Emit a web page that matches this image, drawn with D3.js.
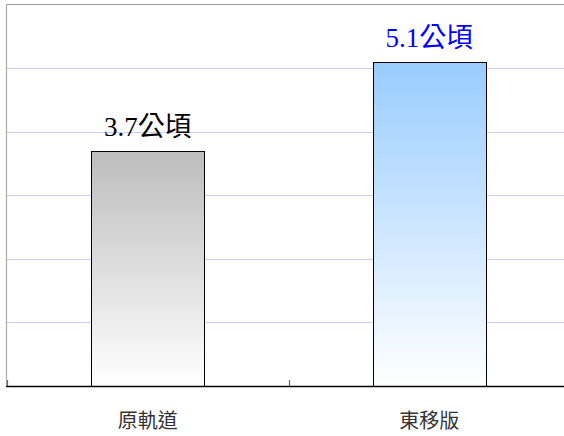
<!DOCTYPE html>
<html><head><meta charset="utf-8">
<script src="https://cdn.jsdelivr.net/npm/d3@7"></script>
<style>body{margin:0;background:#fff;}svg{display:block;}</style>
</head><body>
<svg id="c" width="564" height="436"></svg>
<script>
const categories = ["原軌道", "東移版"];
const values = [3.7, 5.1];
const labels = ["3.7", "5.1"];
const unit = "公頃";
const gridTicks = [1, 2, 3, 4, 5];

const svg = d3.select("#c");
const mLeft = 7, mRight = 570, mTop = 4.5, mBottom = 386;
const x = d3.scaleBand().domain(categories).range([mLeft, mRight]).paddingInner(0.6).paddingOuter(0.3);
const y = d3.scaleLinear().domain([0, 6]).range([mBottom, mTop]);

const defs = svg.append("defs");
const grads = [["g0", "#bdbdbd", "#ffffff"], ["g1", "#99ccff", "#ffffff"]];
grads.forEach(([id, c1, c2]) => {
  const g = defs.append("linearGradient").attr("id", id).attr("x1", 0).attr("y1", 0).attr("x2", 0).attr("y2", 1);
  g.append("stop").attr("offset", "0%").attr("stop-color", c1);
  g.append("stop").attr("offset", "100%").attr("stop-color", c2);
});

// gridlines
svg.append("g").selectAll("line").data(gridTicks).join("line")
  .attr("x1", mLeft).attr("x2", 564)
  .attr("y1", d => Math.round(y(d)) + 0.5).attr("y2", d => Math.round(y(d)) + 0.5)
  .attr("stroke", "#ccccff").attr("stroke-width", 1);

// top border
svg.append("line").attr("x1", 6).attr("x2", 564).attr("y1", 4.5).attr("y2", 4.5).attr("stroke", "#999").attr("stroke-width", 1.2);
// left axis
svg.append("line").attr("x1", 6.5).attr("x2", 6.5).attr("y1", 4).attr("y2", mBottom).attr("stroke", "#aaa").attr("stroke-width", 1.2);

// bars
svg.append("g").selectAll("rect").data(values).join("rect")
  .attr("x", (d, i) => Math.round(x(categories[i])) + 0.5)
  .attr("y", d => Math.round(y(d)) + 0.5)
  .attr("width", Math.round(x.bandwidth()))
  .attr("height", d => mBottom - Math.round(y(d)))
  .attr("fill", (d, i) => `url(#g${i})`)
  .attr("stroke", "#000").attr("stroke-width", 1);

// x axis baseline
svg.append("line").attr("x1", 6).attr("x2", 564).attr("y1", mBottom + 0.5).attr("y2", mBottom + 0.5).attr("stroke", "#000").attr("stroke-width", 1.3);
// boundary ticks between categories
const bounds = [mLeft - 0.5, (x(categories[0]) + x.bandwidth() + x(categories[1])) / 2];
svg.append("g").selectAll("line").data(bounds).join("line")
  .attr("x1", d => Math.round(d) + 0.5).attr("x2", d => Math.round(d) + 0.5)
  .attr("y1", mBottom - 6).attr("y2", mBottom).attr("stroke", "#666").attr("stroke-width", 1.2);

// category labels
svg.append("g").selectAll("text").data(categories).join("text")
  .attr("x", d => x(d) + x.bandwidth() / 2)
  .attr("y", 428)
  .attr("text-anchor", "middle")
  .attr("font-family", "'Noto Sans CJK TC', sans-serif")
  .attr("font-size", 20)
  .attr("fill", "#333")
  .text(d => d);

// value labels
const colors = ["#000000", "#0000ff"];
const vl = svg.append("g").selectAll("text").data(values).join("text")
  .attr("x", (d, i) => x(categories[i]) + x.bandwidth() / 2)
  .attr("y", d => y(d) - 15)
  .attr("text-anchor", "middle")
  .attr("font-size", 27)
  .attr("fill", (d, i) => colors[i]);
vl.append("tspan").attr("font-family", "'Liberation Serif', serif").text((d, i) => labels[i]);
vl.append("tspan").attr("font-family", "'Noto Sans CJK TC', sans-serif").text(unit);
</script>
</body></html>
